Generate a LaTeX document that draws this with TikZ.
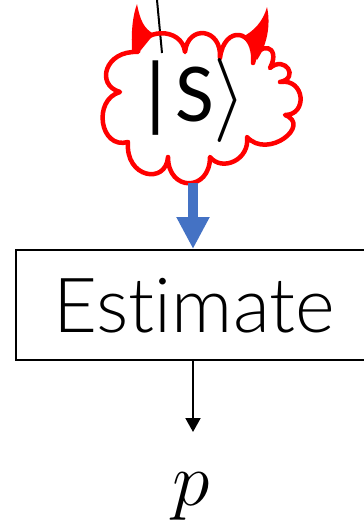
\RequirePackage{fix-cm}
\documentclass[tikz,border=0pt]{standalone}
\usepackage{fontspec}
\newfontfamily\ketfont{Carlito}
\newfontfamily\boxfont{Lato Light}[Ligatures=NoCommon]
\usetikzlibrary{arrows.meta}
\definecolor{devil}{HTML}{FF0000}
\definecolor{flow}{HTML}{4472C4}
\tikzset{
  cloudline/.style={draw=devil, line width=4.5pt, line join=round, line cap=round},
  horn/.style={fill=devil},
  wire/.style={draw=black, line width=2pt},
  bluearrow/.style={draw=flow, line width=10pt, -{Triangle[width=31pt,length=32pt]}},
  blackarrow/.style={draw=black, line width=2pt, -{Triangle[width=15pt,length=14pt]}},
  estbox/.style={draw=black, line width=2pt, minimum width=354pt, minimum height=110pt, inner sep=0pt},
}
\begin{document}
\begin{tikzpicture}[x=1pt, y=-1pt]
\clip (0,0) rectangle (364,522);
\fill[white] (0,0) rectangle (364,522);

% incoming wire
\coordinate (wiretop) at (157,0);
\coordinate (wireend) at (162,53);
\draw[wire] (wiretop) -- (wireend);

% horns
\fill[horn] (132,50) .. controls (131,30) and (133,15) .. (137,4)
  .. controls (140,20) and (144,29) .. (154,34) -- (141,50) -- cycle;
\fill[horn] (242,37) .. controls (253,32) and (263,22) .. (267,7)
  .. controls (271,25) and (267,45) .. (257,60) -- (251,46) -- cycle;

% cloud outline
\draw[cloudline] (138,52)
  .. controls (140,28) and (182,26) .. (185,52)
  .. controls (188,24) and (222,28) .. (220,58)
  .. controls (224,25) and (256,28) .. (253,63)
  .. controls (258,40) and (282,45) .. (270,68)
  .. controls (285,55) and (300,78) .. (280,82)
  .. controls (305,78) and (308,115) .. (285,115)
  .. controls (312,125) and (268,160) .. (247,137)
  .. controls (250,160) and (222,172) .. (210,157)
  .. controls (210,192) and (168,192) .. (168,157)
  .. controls (166,185) and (125,178) .. (128,142)
  .. controls (100,150) and (92,100) .. (120,92)
  .. controls (95,85) and (105,50) .. (138,52) -- cycle;

\node[anchor=base, inner sep=0pt] (ket) at (191.5,121)
  {\fontsize{84}{86}\selectfont\ketfont |S$\rangle$};

\coordinate (cloudfoot) at (193,183);
\node[estbox] (est) at (193,305) {};
\node[anchor=base, inner sep=0pt] (esttext) at (194,332)
  {\fontsize{76}{78}\selectfont\boxfont Estimate};

\draw[bluearrow] (cloudfoot) -- (est.north);

\coordinate (pin) at (193,432);
\draw[blackarrow] (est.south) -- (pin);

\node[anchor=base, inner sep=0pt] (p) at (191,505)
  {\fontsize{76}{78}\selectfont$p$};
\end{tikzpicture}
\end{document}
